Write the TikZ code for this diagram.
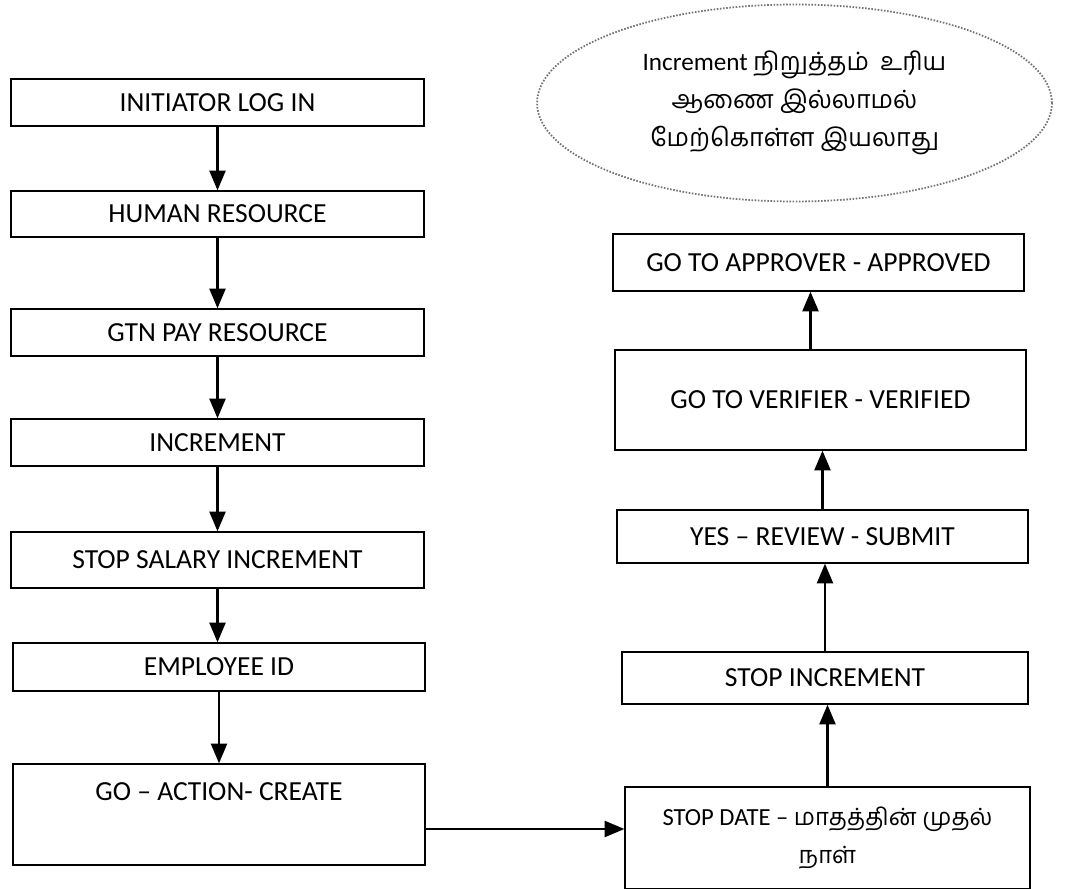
\documentclass[tikz,border=0pt]{standalone}
\usepackage{fontspec}
\setmainfont{Carlito}
\newfontfamily\tamil[Script=Tamil]{Hind Madurai}
\usetikzlibrary{arrows,shapes.geometric}

\tikzset{
  stage/.style={draw, line width=0.9pt, rectangle, inner sep=0pt, align=center,
    font=\fontsize{15.7}{21.5}\selectfont},
  flow/.style={->, >=triangle 45, line width=1.6pt},
}

\begin{document}
\begin{tikzpicture}[x=0.02cm,y=-0.02cm]
	\fill[white] (0,0) rectangle (1080,889);
	\useasboundingbox (0,0) rectangle (1080,889);

	% left column, top to bottom
	\node[stage, minimum width=8.26cm, minimum height=0.94cm] (login) at (217.5,102.5) {INITIATOR LOG IN};
	\node[stage, minimum width=8.26cm, minimum height=0.92cm] (hr) at (217.5,214) {HUMAN RESOURCE};
	\node[stage, minimum width=8.26cm, minimum height=0.94cm] (gtn) at (217.5,332.5) {GTN PAY RESOURCE};
	\node[stage, minimum width=8.26cm, minimum height=0.94cm] (incr) at (217.5,442.5) {INCREMENT};
	\node[stage, minimum width=8.26cm, minimum height=1.12cm] (salary) at (217.5,560) {STOP SALARY INCREMENT};
	\node[stage, minimum width=8.24cm, minimum height=0.96cm] (empid) at (219,667) {EMPLOYEE ID};
	\node[stage, minimum width=8.24cm, text height=0.72cm, text depth=1.3cm] (go) at (219,814.5) {GO -- ACTION- CREATE};

	% right column, bottom to top
	\node[stage, minimum width=8.1cm, minimum height=2.04cm, font=\fontsize{14}{21.6}\selectfont] (stopdate) at (827.5,838)
		{STOP DATE -- {\tamil\fontsize{13.5}{21.6}\selectfont மாதத்தின் முதல்}\\{\tamil\fontsize{13.5}{21.6}\selectfont நாள்}};
	\node[stage, minimum width=8.12cm, minimum height=1.04cm] (stopinc) at (825,678) {STOP INCREMENT};
	\node[stage, minimum width=8.22cm, minimum height=1.06cm] (review) at (822.5,536.5) {YES -- REVIEW - SUBMIT};
	\node[stage, minimum width=8.22cm, minimum height=2cm] (verify) at (820.5,400) {GO TO VERIFIER - VERIFIED};
	\node[stage, minimum width=8.22cm, minimum height=1.14cm] (approve) at (818.5,262.5) {GO TO APPROVER - APPROVED};

	% note
	\node[ellipse, draw=black!55, line width=1pt, dash pattern=on 0.9pt off 0.9pt,
		minimum width=10.3cm, minimum height=3.94cm, align=center,
		font=\fontsize{14.3}{21.8}\selectfont] (note) at (794.5,103)
		{Increment {\tamil நிறுத்தம்}\ \ {\tamil உரிய}\\{\tamil ஆணை இல்லாமல்}\\{\tamil மேற்கொள்ள இயலாது}};

	\draw[flow] (login) -- (hr);
	\draw[flow] (hr) -- (gtn);
	\draw[flow] (gtn) -- (incr);
	\draw[flow] (incr) -- (salary);
	\draw[flow] (salary.south) -- (salary.south |- empid.north);
	\draw[flow] (empid.south) -- (empid.south |- go.north);
	\draw[flow] ([yshift=-0.29cm]go.east) -- ([yshift=-0.29cm]go.east -| stopdate.west);
	\draw[flow] (stopdate.north) -- (stopdate.north |- stopinc.south);
	\draw[flow] (stopinc.north) -- (stopinc.north |- review.south);
	\draw[flow] (review.north) -- (review.north |- verify.south);
	\draw[flow] ([xshift=-0.2cm]verify.north) -- ([xshift=-0.2cm]verify.north |- approve.south);
\end{tikzpicture}
\end{document}
